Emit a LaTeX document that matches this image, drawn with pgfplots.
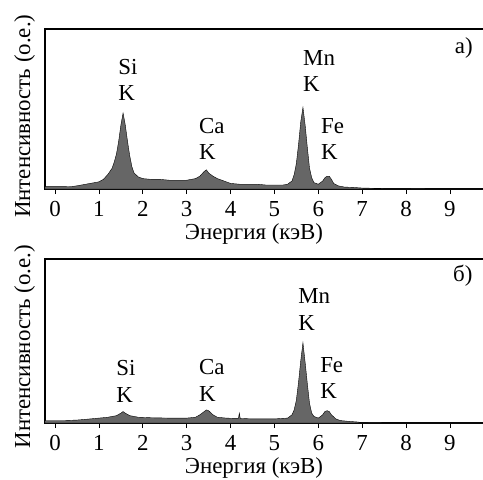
\documentclass[border=0pt]{standalone}
\usepackage{pgfplots}
\pgfplotsset{compat=1.18}
\usepackage{fontspec}
\setmainfont{Liberation Serif}

\newcommand{\bigfont}{\fontsize{23}{26}\selectfont}

\pgfplotsset{
  spec/.style={
    anchor=north west,
    scale only axis,
    width=440bp,
    xmin=-0.23, xmax=9.8,
    ymin=0, ymax=100,
    axis line style={line width=1.4bp},
    xtick={0,...,9},
    ytick=\empty,
    tick align=outside,
    xtick pos=bottom,
    major tick length=5bp,
    every tick/.style={black, line width=0.8bp},
    /pgf/number format/assume math mode=true,
    xticklabel style={font=\bigfont, anchor=north, inner sep=0pt, yshift=-7bp},
    xlabel={Энергия (кэВ)},
    xlabel style={font=\bigfont, inner sep=0pt, at={(axis description cs:0.475,0)}, anchor=base, yshift=-50.5bp},
    ylabel={Интенсивность (о.е.)},
    ylabel style={font=\bigfont, inner sep=0pt, rotate=0, anchor=base},
  },
  spectrum/.style={draw=black, line width=0.4bp, fill=black!60},
}
\tikzset{lbl/.style={anchor=base west, inner sep=0pt, font=\bigfont}}

\begin{document}
\begin{tikzpicture}
\useasboundingbox (0,0) rectangle (483bp,-480bp);

% а) верхний спектр
\begin{axis}[spec, at={(45bp,-29bp)}, height=160bp,
  ylabel style={at={(axis description cs:-0.034,0.455)}}]
\addplot[spectrum] coordinates {
 (-0.23,1.5) (0,1.5) (0.2,1.5) (0.4,1.6) (0.5,2) (0.6,2.5) (0.7,3) (0.8,3.5)
 (0.9,4) (1.0,4.5) (1.1,6) (1.2,9) (1.3,13) (1.35,17) (1.4,22) (1.45,30)
 (1.5,40) (1.55,47.5) (1.6,40) (1.65,30) (1.7,21) (1.75,14) (1.8,10)
 (1.9,7.5) (2.0,6.5) (2.2,6) (2.4,6) (2.6,5.5) (2.8,5.5) (3.0,5.5)
 (3.2,6.5) (3.3,8) (3.4,11) (3.45,12) (3.5,10) (3.6,8) (3.7,6.5) (3.8,5.5)
 (3.9,4.5) (4.0,3.5) (4.2,3) (4.4,3) (4.6,3) (4.8,2.5) (5.0,2.5) (5.2,2.5)
 (5.3,3) (5.4,5) (5.45,9) (5.5,16) (5.55,28) (5.6,42) (5.65,51) (5.7,40)
 (5.75,26) (5.8,13) (5.85,7) (5.9,4) (6.0,3) (6.1,5) (6.15,7) (6.2,8)
 (6.25,8) (6.3,6) (6.35,3.5) (6.45,2) (6.6,1.2) (6.8,1) (7.0,0.6)
 (7.5,0.3) (8.0,0.2) (9.0,0.1) (9.8,0.1)
} \closedcycle;
\node[lbl] at (axis cs:1.44,71.3) {Si};
\node[lbl] at (axis cs:1.44,55.6) {K};
\node[lbl] at (axis cs:3.28,35) {Ca};
\node[lbl] at (axis cs:3.28,18.5) {K};
\node[lbl] at (axis cs:5.65,77.5) {Mn};
\node[lbl] at (axis cs:5.65,61) {K};
\node[lbl] at (axis cs:6.06,35) {Fe};
\node[lbl] at (axis cs:6.06,18.5) {K};
\node[lbl] at (axis cs:9.11,85) {а)};
\end{axis}

% б) нижний спектр
\begin{axis}[spec, at={(45bp,-259bp)}, height=164bp,
  ylabel style={at={(axis description cs:-0.034,0.465)}}]
\addplot[spectrum] coordinates {
 (-0.23,1.5) (0.2,1.5) (0.5,1.8) (0.8,2.5) (1.0,3) (1.2,3.5) (1.4,4.5)
 (1.5,6) (1.55,7) (1.6,6) (1.7,4.5) (1.9,3.5) (2.2,3.2) (2.6,3) (3.0,3)
 (3.2,3.5) (3.3,5) (3.4,7) (3.45,8) (3.5,7.5) (3.6,5) (3.7,3.5) (3.9,3)
 (4.1,2.8) (4.18,2.8) (4.2,6) (4.22,2.8) (4.5,2.5) (5.0,2.5) (5.3,3)
 (5.4,5) (5.45,8) (5.5,14) (5.55,25) (5.6,38) (5.65,49) (5.7,37) (5.75,24)
 (5.8,12) (5.85,6) (5.9,4) (6.0,3) (6.1,5) (6.15,7) (6.2,7.5) (6.25,7)
 (6.3,5) (6.4,2.5) (6.5,1.5) (6.7,1) (6.9,0.6) (7.0,0.2) (8.0,0.1) (9.8,0.1)
} \closedcycle;
\node[lbl] at (axis cs:1.39,28.7) {Si};
\node[lbl] at (axis cs:1.39,12.8) {K};
\node[lbl] at (axis cs:3.28,29.3) {Ca};
\node[lbl] at (axis cs:3.28,13.4) {K};
\node[lbl] at (axis cs:5.54,72.6) {Mn};
\node[lbl] at (axis cs:5.54,56.7) {K};
\node[lbl] at (axis cs:6.04,31) {Fe};
\node[lbl] at (axis cs:6.04,15) {K};
\node[lbl] at (axis cs:9.07,86) {б)};
\end{axis}
\end{tikzpicture}
\end{document}
